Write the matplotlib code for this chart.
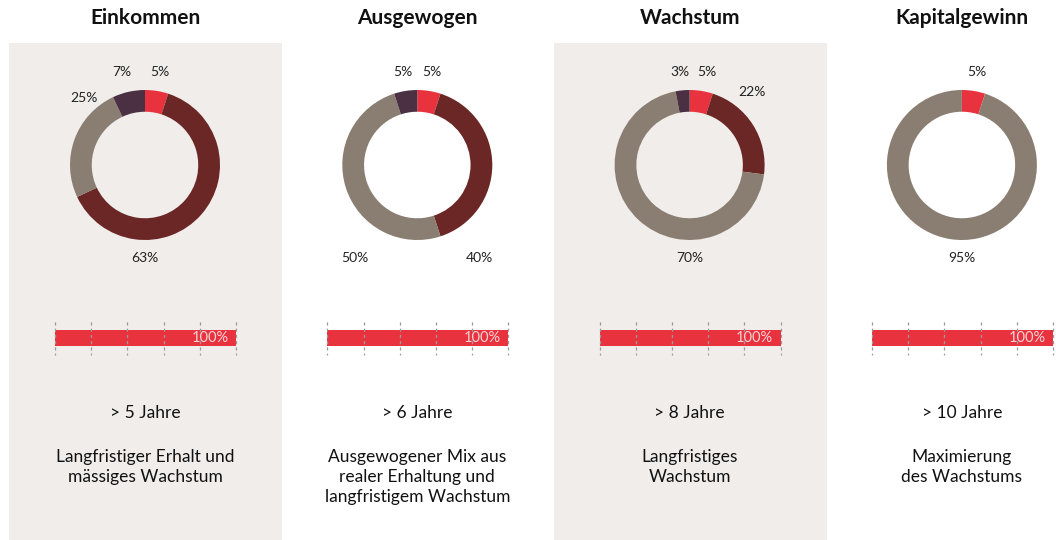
import matplotlib
matplotlib.use('Agg')
import matplotlib.pyplot as plt
from matplotlib.patches import Rectangle

plt.rcParams['font.family'] = ['Lato', 'DejaVu Sans']

# Data
titles = ['Einkommen', 'Ausgewogen', 'Wachstum', 'Kapitalgewinn']
# slice order clockwise from top: red, dark red, grey, purple
slice_red = [5, 5, 5, 5]
slice_darkred = [63, 40, 22, 0]
slice_grey = [25, 50, 70, 95]
slice_purple = [7, 5, 3, 0]
bar_values = [100, 100, 100, 100]
horizons = ['> 5 Jahre', '> 6 Jahre', '> 8 Jahre', '> 10 Jahre']
descriptions = ['Langfristiger Erhalt und\nmässiges Wachstum',
                'Ausgewogener Mix aus\nrealer Erhaltung und\nlangfristigem Wachstum',
                'Langfristiges\nWachstum',
                'Maximierung\ndes Wachstums']

colors = ['#E8333F', '#6B2726', '#8A7E72', '#4B3043']
bg_color = '#F1EDEA'

# label positions (in donut radius units) for each slice, per panel
label_pos = [
    [(0.2, 1.24), (0.0, -1.24), (-0.81, 0.89), (-0.31, 1.24)],
    [(0.19, 1.24), (0.83, -1.24), (-0.83, -1.24), (-0.19, 1.24)],
    [(0.23, 1.24), (0.83, 0.97), (0.0, -1.24), (-0.13, 1.24)],
    [(0.2, 1.24), None, (0.0, -1.24), None],
]

W, H = 1056, 540
fig = plt.figure(figsize=(W / 100, H / 100), dpi=100)

def fx(px):
    return px / W

def fy(py):
    return 1 - py / H

step = 272.3
for i in range(4):
    cx = 145 + step * i
    # panel background
    if i % 2 == 0:
        fig.patches.append(Rectangle((fx(cx - 136), 0), fx(273), fy(43),
                                     transform=fig.transFigure,
                                     facecolor=bg_color, edgecolor='none', zorder=-5))
    fig.text(fx(cx), fy(18), titles[i], ha='center', va='center',
             fontsize=15, fontweight='bold', color='#111111')

    # donut
    r = 75
    ax = fig.add_axes([fx(cx - r), fy(165 + r), fx(2 * r), (2 * r) / H])
    ax.patch.set_alpha(0)
    vals = [slice_red[i], slice_darkred[i], slice_grey[i], slice_purple[i]]
    ax.pie(vals, colors=colors, startangle=90, counterclock=False,
           wedgeprops=dict(width=0.29, edgecolor='none'))
    ax.set_xlim(-1, 1)
    ax.set_ylim(-1, 1)
    ax.set_aspect('auto')
    for v, pos in zip(vals, label_pos[i]):
        if v == 0 or pos is None:
            continue
        ax.text(pos[0], pos[1], '%d%%' % v, ha='center', va='center',
                fontsize=10, color='#222222', clip_on=False)

    # bar
    bx = fig.add_axes([fx(cx - 90), fy(355), fx(181), 34 / H])
    bx.patch.set_alpha(0)
    bx.barh([0], [bar_values[i]], height=0.94, color=colors[0], zorder=1)
    bx.set_xlim(0, 100)
    bx.set_ylim(-1, 1)
    for gx in range(0, 101, 20):
        bx.axvline(gx, color='#9A9A9A', lw=0.9, ls=(1, (2.5, 2.5)),
                   zorder=2, clip_on=False)
    bx.text(96, 0, '%d%%' % bar_values[i], ha='right', va='center',
            fontsize=10.5, color='#F6D3D6', zorder=3)
    bx.set_xticks([])
    bx.set_yticks([])
    for s in bx.spines.values():
        s.set_visible(False)

    fig.text(fx(cx), fy(413), horizons[i], ha='center', va='center',
             fontsize=12.5, color='#111111')
    fig.text(fx(cx), fy(449), descriptions[i], ha='center', va='top',
             fontsize=12.5, color='#111111', linespacing=1.32)

fig.savefig('out.png', dpi=100)
